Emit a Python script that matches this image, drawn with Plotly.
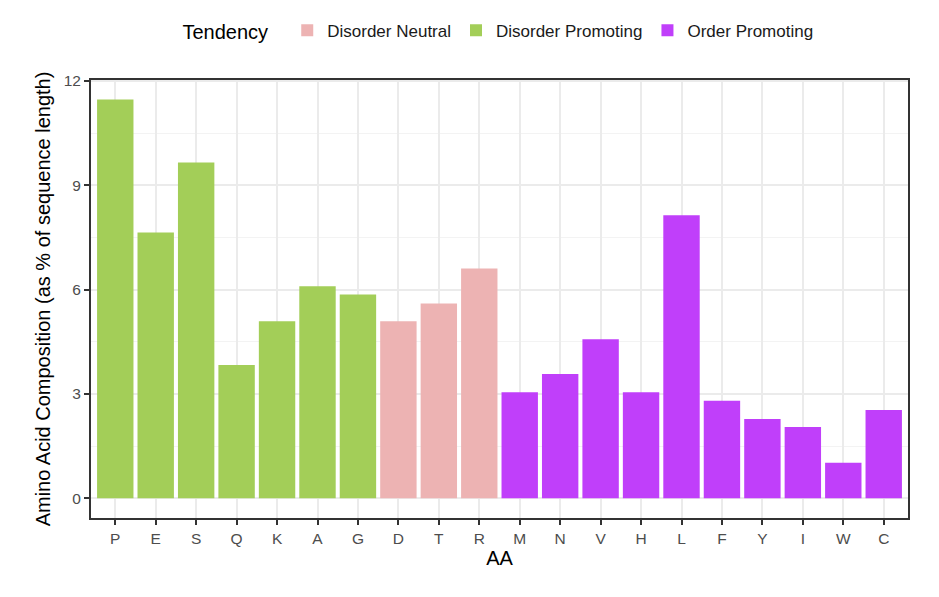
import plotly.graph_objects as go

aa_order = ["P", "E", "S", "Q", "K", "A", "G", "D", "T", "R",
            "M", "N", "V", "H", "L", "F", "Y", "I", "W", "C"]

neutral_aa = ["D", "T", "R"]
neutral_vals = [5.09, 5.60, 6.61]

promoting_aa = ["P", "E", "S", "Q", "K", "A", "G"]
promoting_vals = [11.47, 7.64, 9.66, 3.83, 5.09, 6.10, 5.86]

order_aa = ["M", "N", "V", "H", "L", "F", "Y", "I", "W", "C"]
order_vals = [3.05, 3.57, 4.57, 3.05, 8.14, 2.80, 2.28, 2.05, 1.02, 2.54]

y_ticks = [0, 3, 6, 9, 12]

FONT = "Liberation Sans, Arial, sans-serif"

fig = go.Figure()
fig.add_trace(go.Bar(x=neutral_aa, y=neutral_vals, name="Disorder Neutral",
                     marker=dict(color="#EDB3B3", line=dict(width=0))))
fig.add_trace(go.Bar(x=promoting_aa, y=promoting_vals, name="Disorder Promoting",
                     marker=dict(color="#A3CE58", line=dict(width=0))))
fig.add_trace(go.Bar(x=order_aa, y=order_vals, name="Order Promoting",
                     marker=dict(color="#C03FFA", line=dict(width=0))))

fig.update_layout(
    width=939, height=597,
    margin=dict(l=83, r=39, t=72, b=87, autoexpand=False),
    paper_bgcolor="white", plot_bgcolor="white",
    barmode="overlay", bargap=0.1,
    font=dict(family=FONT, color="#1A1A1A"),
    legend=dict(
        orientation="h", x=0.5, xanchor="center",
        yref="container", y=0.962, yanchor="middle",
        title=dict(text="Tendency  ", font=dict(size=20, color="black")),
        font=dict(size=17, color="#1A1A1A"),
        traceorder="normal", itemsizing="constant",
    ),
    xaxis=dict(
        type="category", categoryorder="array", categoryarray=aa_order,
        range=[-0.6, len(aa_order) - 0.4],
        showgrid=True, gridcolor="#EBEBEB", gridwidth=1.5,
        showline=True, linecolor="#333333", linewidth=2, mirror=True,
        ticks="outside", ticklen=5, tickwidth=2, tickcolor="#333333",
        tickfont=dict(size=15.5, color="#4D4D4D"),
        title=dict(text="AA", font=dict(size=20, color="black"), standoff=4),
        zeroline=False,
    ),
    yaxis=dict(
        range=[-0.57, 12.03], tickvals=y_ticks,
        showgrid=True, gridcolor="#EBEBEB", gridwidth=1.5,
        minor=dict(showgrid=True, gridcolor="#F3F3F3", gridwidth=0.8,
                   tickvals=[1.5, 4.5, 7.5, 10.5]),
        showline=True, linecolor="#333333", linewidth=2, mirror=True,
        ticks="outside", ticklen=5, tickwidth=2, tickcolor="#333333",
        tickfont=dict(size=15.5, color="#4D4D4D"),
        title=dict(text="Amino Acid Composition (as % of sequence length)",
                   font=dict(size=20, color="black"), standoff=8),
        zeroline=False,
    ),
)

fig.write_html("out.html")
